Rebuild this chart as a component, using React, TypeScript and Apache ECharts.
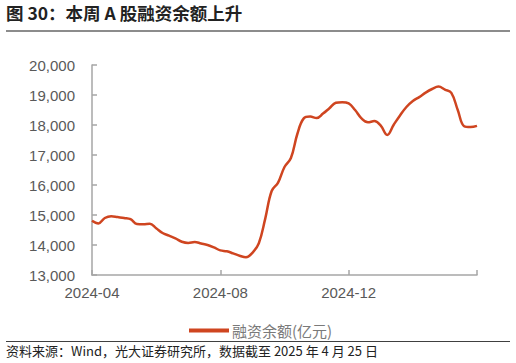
import React, { useEffect, useRef } from "react";
import * as echarts from "echarts";

const seriesName = "融资余额(亿元)";
const xTickLabels = ["2024-04", "2024-08", "2024-12", ""];
const labelEvery = 20;
const yTicks = { min: 13000, max: 20000, interval: 1000 };
const financingBalance = [
  14810, 14720, 14900, 14960, 14930, 14900, 14860, 14700, 14690, 14710,
  14560, 14400, 14310, 14220, 14110, 14070, 14100, 14050, 14000, 13920,
  13820, 13790, 13720, 13640, 13590, 13740, 14060, 14880, 15800, 16080,
  16600, 16900, 17700, 18220, 18280, 18230, 18380, 18560, 18740, 18760,
  18720, 18500, 18220, 18090, 18130, 17980, 17670, 18000, 18320, 18600,
  18800, 18930, 19080, 19200, 19280, 19180, 19070, 18500, 17960, 17930,
  17970,
];
const categories = financingBalance.map((_, i) => String(i));

export default function App() {
  const ref = useRef<HTMLDivElement>(null);
  useEffect(() => {
    if (!ref.current) return;
    const chart = echarts.init(ref.current, null, { renderer: "svg" });
    const font = '"Noto Sans CJK SC", "Liberation Sans", Arial, sans-serif';
    const latin = '"Liberation Sans", Arial, sans-serif';
    chart.setOption({
      animation: false,
      textStyle: { fontFamily: font },
      grid: { left: 92, right: 39, top: 65, bottom: 88 },
      xAxis: {
        type: "category",
        data: categories,
        boundaryGap: false,
        axisLine: { lineStyle: { color: "#a6a6a6", width: 1.5 } },
        axisTick: { inside: true, interval: labelEvery - 1, length: 5, lineStyle: { color: "#a6a6a6", width: 1.5 } },
        axisLabel: {
          interval: labelEvery - 1,
          color: "#595959",
          fontSize: 15,
          fontFamily: latin,
          margin: 10,
          formatter: (_v: string, idx: number) => xTickLabels[Math.floor(idx / labelEvery)] ?? "",
        },
        splitLine: { show: false },
      },
      yAxis: {
        type: "value",
        min: yTicks.min,
        max: yTicks.max,
        interval: yTicks.interval,
        axisLine: { show: true, lineStyle: { color: "#a6a6a6", width: 1.5 } },
        axisTick: { show: true, inside: true, length: 5, lineStyle: { color: "#a6a6a6", width: 1.5 } },
        axisLabel: {
          color: "#595959",
          fontSize: 15,
          fontFamily: latin,
          margin: 17,
          formatter: (v: number) => v.toLocaleString("en-US"),
        },
        splitLine: { show: false },
      },
      legend: {
        data: [seriesName],
        top: 318,
        left: 184,
        itemWidth: 40,
        itemHeight: 4,
        itemGap: 4,
        icon: "rect",
        textStyle: { color: "#7a7a7a", fontSize: 15, fontFamily: font, padding: [0, 0, 0, -2] },
      },
      series: [
        {
          name: seriesName,
          type: "line",
          data: financingBalance,
          smooth: 0.4,
          showSymbol: false,
          lineStyle: { color: "#cf4520", width: 2.5 },
          itemStyle: { color: "#cf4520" },
        },
      ],
      graphic: [
        {
          type: "text",
          left: 6,
          top: 4,
          style: { text: "图 30：本周 A 股融资余额上升", fontSize: 17.5, fontWeight: "bold", fill: "#222", fontFamily: font },
        },
        { type: "rect", shape: { x: 6, y: 30, width: 504, height: 2 }, style: { fill: "#8c8c8c" } },
        { type: "rect", shape: { x: 6, y: 341, width: 504, height: 1 }, style: { fill: "#404040" } },
        {
          type: "text",
          left: 6,
          top: 344,
          style: { text: "资料来源：Wind，光大证券研究所，数据截至 2025 年 4 月 25 日", fontSize: 13, fill: "#222", fontFamily: font },
        },
      ],
    });
    return () => chart.dispose();
  }, []);
  return <div ref={ref} style={{ width: 516, height: 363, position: "absolute", left: 0, top: 0 }} />;
}
